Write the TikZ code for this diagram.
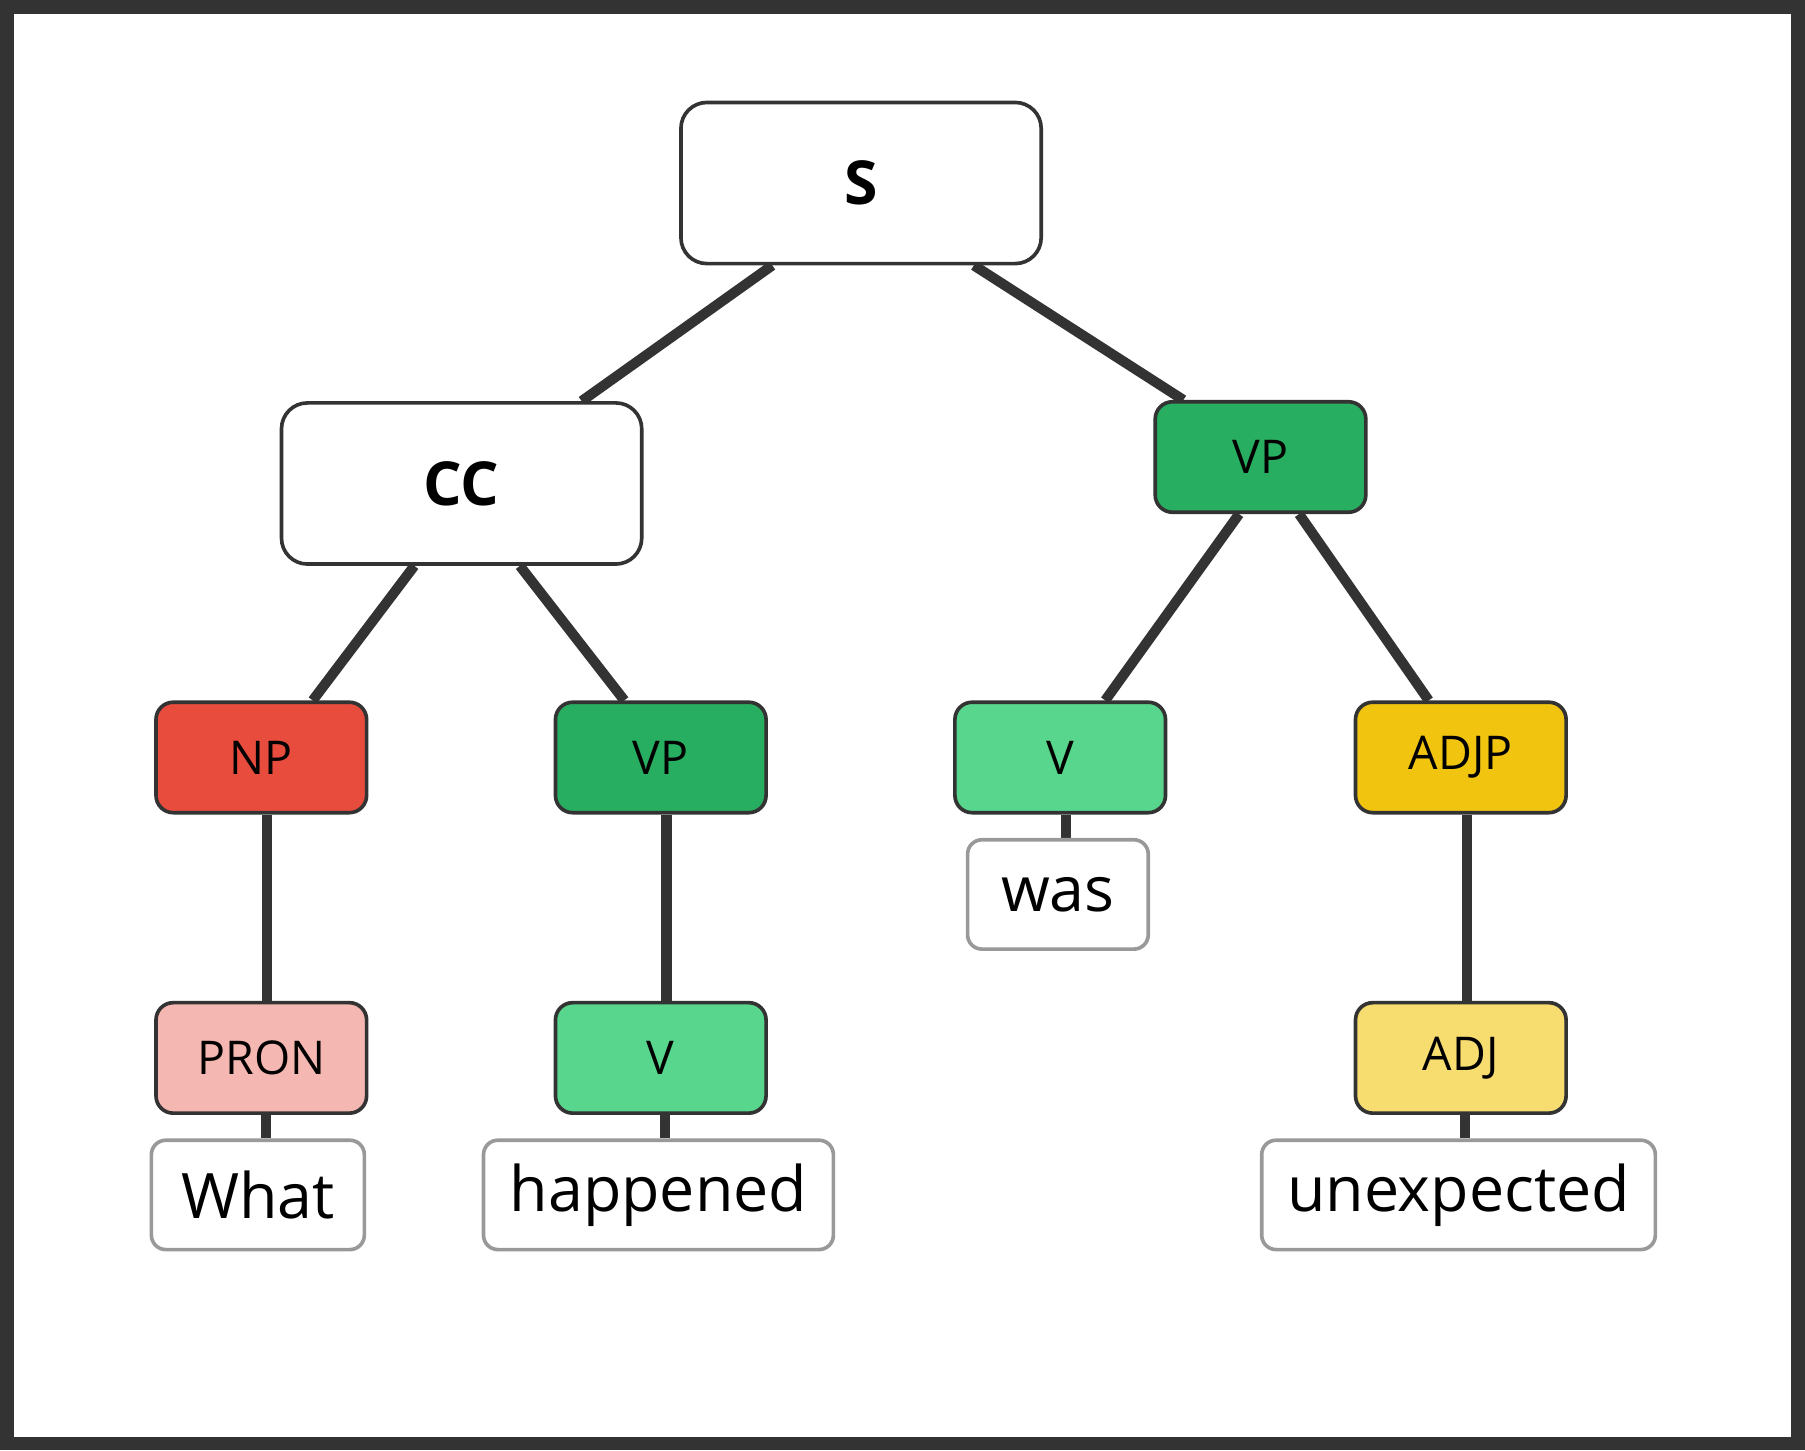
\documentclass[tikz,border=0pt]{standalone}
\usepackage{fontspec}
\setmainfont{Open Sans}
\usetikzlibrary{calc,backgrounds}
\definecolor{edge}{HTML}{333333}
\definecolor{cNP}{HTML}{E74C3C}
\definecolor{cVP}{HTML}{27AE60}
\definecolor{cV}{HTML}{58D68D}
\definecolor{cADJP}{HTML}{F1C40F}
\definecolor{cPRON}{HTML}{F5B7B1}
\definecolor{cADJ}{HTML}{F7DC6F}
\tikzset{
 big/.style={draw=edge,line width=1.8pt,rounded corners=0.45cm,fill=white,minimum width=6.26cm,minimum height=2.8cm,font=\fontsize{30}{34}\selectfont\bfseries},
 tag/.style={draw=edge,line width=1.8pt,rounded corners=0.3cm,minimum width=3.66cm,minimum height=1.92cm,font=\fontsize{23}{26}\selectfont},
 word/.style={draw=black!40,line width=1.8pt,rounded corners=0.25cm,fill=white,minimum height=1.9cm,inner xsep=0pt,font=\fontsize{31}{36}\selectfont},
 ed/.style={draw=edge,line width=5pt}
}
\newcommand{\fr}[3]{($(#1.#2 west)!#3!(#1.#2 east)$)}
\begin{document}
\begin{tikzpicture}[x=0.02cm,y=-0.02cm]
\useasboundingbox (0,0) rectangle (1568,1260);
\node[big] (S) at (748,159) {S};
\node[big] (CC) at (401,420) {CC};
\node[tag,fill=cVP] (VPr) at (1095,397) {VP};
\node[tag,fill=cNP] (NP) at (227,658) {NP};
\node[tag,fill=cVP] (VPl) at (574,658) {VP};
\node[tag,fill=cV] (V1) at (921,658) {V};
\node[tag,fill=cADJP] (ADJP) at (1269,658) {ADJP};
\node[tag,fill=cPRON] (PRON) at (227,919) {PRON};
\node[tag,fill=cV] (V2) at (574,919) {V};
\node[tag,fill=cADJ] (ADJ) at (1269,919) {ADJ};
\node[word,minimum width=3.7cm] (w1) at (224,1038) {What};
\node[word,minimum width=6.08cm] (w2) at (572,1038) {happened};
\node[word,minimum width=3.14cm] (w3) at (919,777) {was};
\node[word,minimum width=6.84cm] (w4) at (1267,1038) {unexpected};
\begin{scope}[on background layer]
\fill[white] (0,0) rectangle (1568,1260);
\draw[edge,line width=6.8pt] (6,6) rectangle (1562,1254);
\draw[ed] \fr{S}{south}{0.256} -- \fr{CC}{north}{0.83};
\draw[ed] \fr{S}{south}{0.81} -- \fr{VPr}{north}{0.14};
\draw[ed] \fr{CC}{south}{0.37} -- \fr{NP}{north}{0.74};
\draw[ed] \fr{CC}{south}{0.66} -- \fr{VPl}{north}{0.33};
\draw[ed] \fr{VPr}{south}{0.40} -- \fr{V1}{north}{0.71};
\draw[ed] \fr{VPr}{south}{0.68} -- \fr{ADJP}{north}{0.35};
\draw[ed] ([xshift=0.1cm]NP.south) -- ([xshift=0.1cm]PRON.north);
\draw[ed] ([xshift=0.1cm]VPl.south) -- ([xshift=0.1cm]V2.north);
\draw[ed] ([xshift=0.1cm]ADJP.south) -- ([xshift=0.1cm]ADJ.north);
\draw[ed] ([xshift=0.1cm]V1.south) -- ([xshift=0.1cm]V1.south |- w3.north);
\draw[ed] ([xshift=0.08cm]PRON.south) -- ([xshift=0.08cm]PRON.south |- w1.north);
\draw[ed] ([xshift=0.08cm]V2.south) -- ([xshift=0.08cm]V2.south |- w2.north);
\draw[ed] ([xshift=0.08cm]ADJ.south) -- ([xshift=0.08cm]ADJ.south |- w4.north);
\end{scope}
\end{tikzpicture}
\end{document}
